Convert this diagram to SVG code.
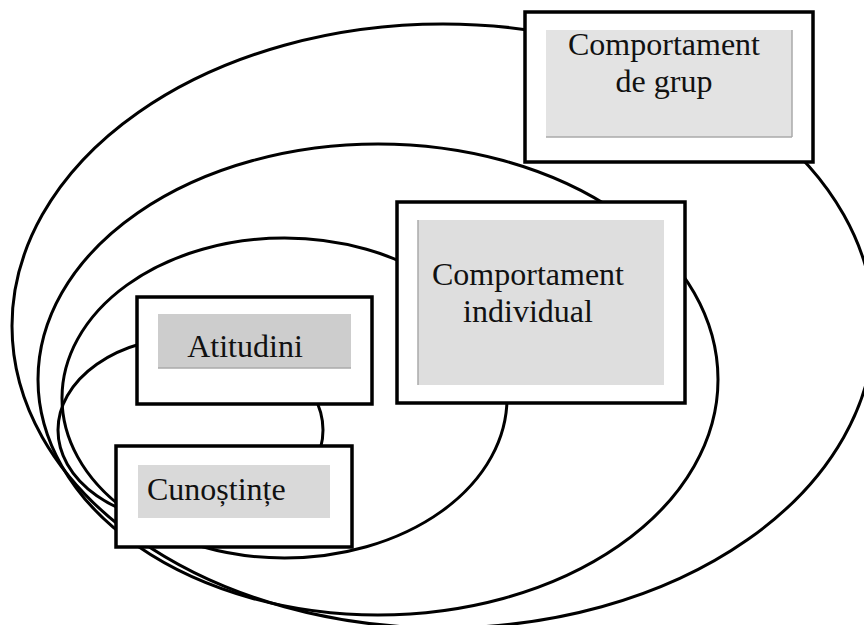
<svg xmlns="http://www.w3.org/2000/svg" width="864" height="625" viewBox="0 0 864 625">
<style>
.ring{fill:none;stroke:#000;stroke-width:3}
.box{fill:#fff;stroke:#000;stroke-width:3.5}
.lbl{font-family:"Liberation Serif","Times New Roman",serif;font-size:32px;fill:#111}
.edge{stroke:#aaa;stroke-width:1.5}
</style>
<rect width="864" height="625" fill="#fff"/>
<g id="connectors">
<ellipse class="ring" cx="443" cy="326" rx="431" ry="302"/>
<ellipse class="ring" cx="378" cy="379.5" rx="340" ry="235.5"/>
<ellipse class="ring" cx="284.5" cy="398" rx="222.5" ry="160"/>
<ellipse class="ring" cx="190.5" cy="430" rx="132.5" ry="93"/>
</g>
<g id="grup">
<rect class="box" x="525" y="12" width="288" height="150"/>
<rect x="546" y="30" width="246" height="107" fill="#e3e3e3"/>
<line class="edge" x1="546" y1="137" x2="792" y2="137"/>
<line class="edge" x1="792" y1="30" x2="792" y2="137"/>
<text class="lbl" x="664" y="55" text-anchor="middle">Comportament</text>
<text class="lbl" x="664" y="92" text-anchor="middle">de grup</text>
</g>
<g id="individual">
<rect class="box" x="397" y="202" width="288" height="201"/>
<rect x="418" y="220" width="246" height="165" fill="#dedede"/>
<line class="edge" x1="418" y1="220" x2="418" y2="385"/>
<text class="lbl" x="528" y="285" text-anchor="middle">Comportament</text>
<text class="lbl" x="528" y="322" text-anchor="middle">individual</text>
</g>
<g id="atitudini">
<rect class="box" x="137" y="297" width="235" height="107"/>
<rect x="158" y="314" width="193" height="54" fill="#cdcdcd"/>
<line class="edge" x1="158" y1="368" x2="351" y2="368"/>
<text class="lbl" x="245" y="357" text-anchor="middle">Atitudini</text>
</g>
<g id="cunostinte">
<rect class="box" x="116" y="446" width="236" height="101"/>
<rect x="138" y="465" width="192" height="53" fill="#d9d9d9"/>
<text class="lbl" x="147" y="500">Cunoștințe</text>
</g>
</svg>
